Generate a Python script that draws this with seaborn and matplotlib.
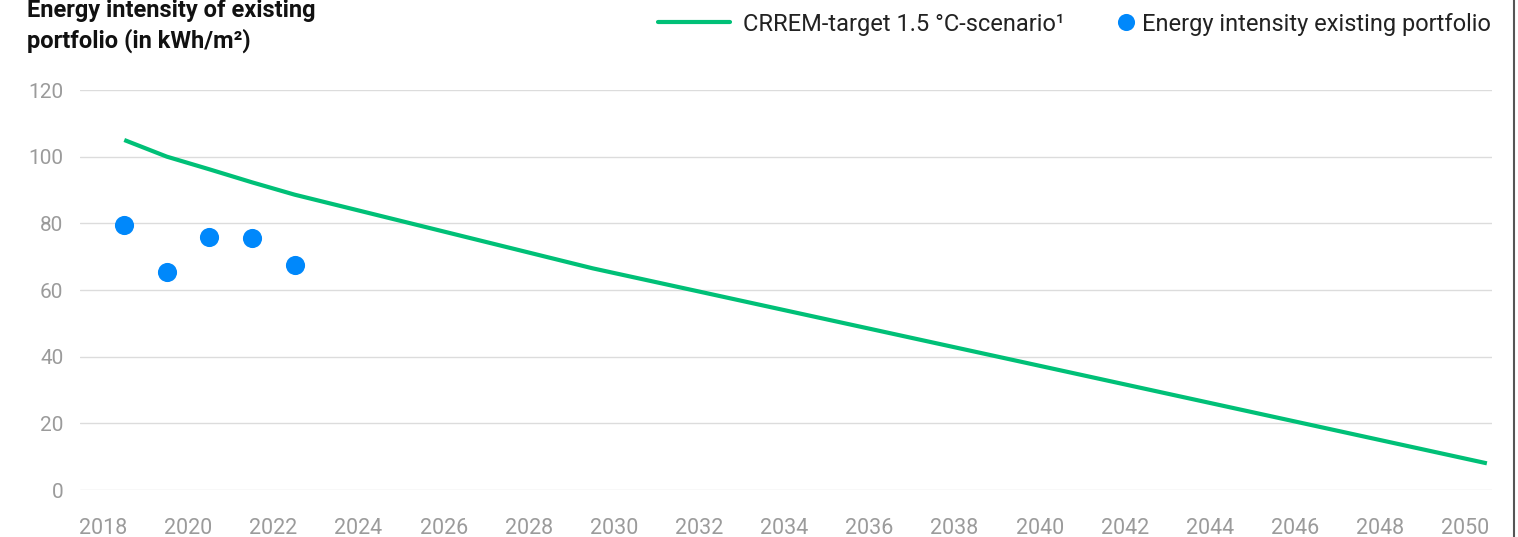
import matplotlib
matplotlib.use("Agg")
import matplotlib.pyplot as plt
import seaborn as sns
import pandas as pd
from matplotlib.lines import Line2D

# CRREM 1.5 °C pathway (kWh/m²)
target_years = [2018, 2019, 2020, 2021, 2022, 2029, 2050]
target_values = [105, 100, 96.2, 92.3, 88.6, 66.5, 8]

# Measured energy intensity of the existing portfolio (kWh/m²)
portfolio_years = [2018, 2019, 2020, 2021, 2022]
portfolio_values = [79.4, 65.4, 75.9, 75.5, 67.4]

tick_years = list(range(2018, 2051, 2))
y_ticks = [0, 20, 40, 60, 80, 100, 120]

GREEN = "#00c077"
BLUE = "#0088fb"
GREY_TXT = "#9b9b9b"
GRID = "#dcdcdc"
MID_YEAR = 0.5  # annual values are placed in the middle of their year

target_df = pd.DataFrame({"year": [y + MID_YEAR for y in target_years], "value": target_values})
portfolio_df = pd.DataFrame({"year": [y + MID_YEAR for y in portfolio_years], "value": portfolio_values})

sns.set_theme(style="white")
plt.rcParams["font.family"] = ["Roboto", "DejaVu Sans"]

W, H = 1518, 537
fig = plt.figure(figsize=(W / 100, H / 100), dpi=100)
ax = fig.add_axes([80 / W, 47 / H, 1412 / W, 400 / H])

sns.lineplot(data=target_df, x="year", y="value", ax=ax, color=GREEN, linewidth=3,
             solid_joinstyle="round", solid_capstyle="butt", zorder=3)
sns.scatterplot(data=portfolio_df, x="year", y="value", ax=ax, color=BLUE, s=190,
                linewidth=0, zorder=4)

ax.set_xlim(2017.46, 2050.62)
ax.set_ylim(0, 120)
ax.set_xticks(tick_years)
ax.set_xticklabels([str(y) for y in tick_years])
ax.set_yticks(y_ticks)
ax.set_xlabel("")
ax.set_ylabel("")
ax.grid(axis="y", color=GRID, linewidth=1)
ax.grid(axis="x", visible=False)
for s in ax.spines.values():
    s.set_visible(False)
ax.tick_params(axis="both", length=0, colors=GREY_TXT)
ax.tick_params(axis="y", pad=12, labelsize=15)
ax.tick_params(axis="x", pad=20, labelsize=15.5)

# Title in the top-left corner
title_kw = dict(fontsize=17, fontweight="bold", color="#111111", va="baseline", ha="left")
fig.text(27 / W, 1 - 17 / H, "Energy intensity of existing", **title_kw)
fig.text(27 / W, 1 - 48 / H, "portfolio (in kWh/m²)", **title_kw)

# Legend along the top: one entry per series
leg_kw = dict(frameon=False, fontsize=17, borderaxespad=0, borderpad=0,
              labelcolor="#222222", loc="center left")
leg1 = fig.legend([Line2D([], [], color=GREEN, linewidth=3)],
                  ["CRREM-target 1.5 °C-scenario¹"],
                  bbox_to_anchor=(658 / W, 1 - 24 / H),
                  handlelength=3.05, handletextpad=0.55, **leg_kw)
leg2 = fig.legend([Line2D([], [], color=BLUE, marker="o", linestyle="none",
                          markersize=12.3, markeredgewidth=0)],
                  ["Energy intensity existing portfolio"],
                  bbox_to_anchor=(1117 / W, 1 - 24 / H),
                  handlelength=0.8, handletextpad=0.28, **leg_kw)

# Thin frame edge on the right
fig.add_artist(Line2D([1514 / W, 1514 / W], [0, 1], color="#555555", linewidth=1.5,
                      transform=fig.transFigure))

fig.savefig("out.png", dpi=100)
